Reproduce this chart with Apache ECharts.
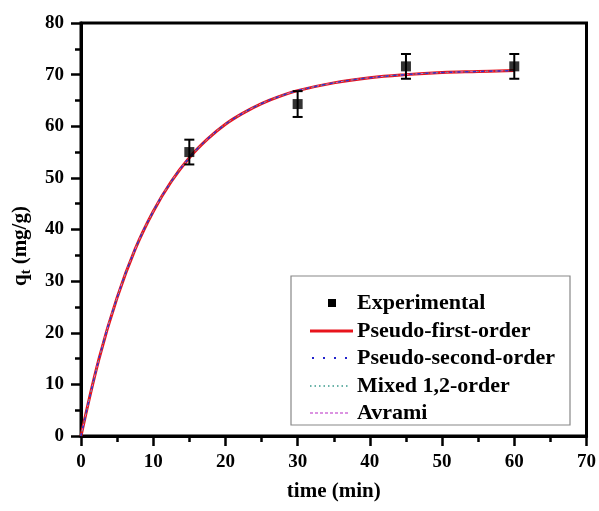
<!DOCTYPE html>
<html>
<head>
<meta charset="utf-8">
<script src="https://cdn.jsdelivr.net/npm/echarts@6/dist/echarts.min.js"></script>
<style>html,body{margin:0;padding:0;background:#fff;}#c{width:599px;height:511px;}</style>
</head>
<body>
<div id="c"></div>
<script>
// ---- data ----
var expTime = [15, 30, 45, 60];
var expQ = [55.0, 64.3, 71.6, 71.6];
var expErr = [2.4, 2.5, 2.4, 2.4];

var fitTime = [0, 2.5, 5, 7.5, 10, 12.5, 15, 17.5, 20, 22.5, 25, 27.5, 30, 35, 40, 45, 50, 55, 60];
var pfoQ   = [0, 15.0, 26.8, 36.2, 43.5, 49.3, 53.9, 57.5, 60.4, 62.6, 64.4, 65.8, 66.9, 68.4, 69.4, 70.0, 70.4, 70.6, 70.8];
var psoQ   = [0, 15.0, 26.8, 36.2, 43.5, 49.3, 53.9, 57.5, 60.4, 62.6, 64.4, 65.8, 66.9, 68.4, 69.4, 70.0, 70.4, 70.6, 70.8];
var mixedQ = [0, 15.0, 26.8, 36.2, 43.5, 49.3, 53.9, 57.5, 60.4, 62.6, 64.4, 65.8, 66.9, 68.4, 69.4, 70.0, 70.4, 70.6, 70.8];
var avramiQ= [0, 15.0, 26.8, 36.2, 43.5, 49.3, 53.9, 57.5, 60.4, 62.6, 64.4, 65.8, 66.9, 68.4, 69.4, 70.0, 70.4, 70.6, 70.8];

var seriesNames = ['Experimental', 'Pseudo-first-order', 'Pseudo-second-order', 'Mixed 1,2-order', 'Avrami'];
var xTitle = 'time (min)';

function pairs(xs, ys) { return xs.map(function (x, i) { return [x, ys[i]]; }); }

var FONT = 'Liberation Serif, Times New Roman, serif';
var chart = echarts.init(document.getElementById('c'), null, { renderer: 'canvas' });

var axisCommon = {
  axisLine: { show: true, onZero: false, lineStyle: { color: '#000', width: 3 } },
  axisTick: { show: true, inside: false, length: 10, lineStyle: { color: '#000', width: 2.5 } },
  minorTick: { show: true, splitNumber: 2, length: 6, lineStyle: { color: '#000', width: 2.5 } },
  splitLine: { show: false },
  axisLabel: { color: '#000', fontFamily: FONT, fontWeight: 'bold', fontSize: 19 }
};

var errData = expTime.map(function (t, i) { return [t, expQ[i] - expErr[i], expQ[i] + expErr[i]]; });

// legend drawn as graphic
var lg = { left: 291, top: 276, right: 570, bottom: 425 };
var rowY = [303, 331, 358, 386, 413];
var legendGraphic = [
  { type: 'rect', shape: { x: lg.left, y: lg.top, width: lg.right - lg.left, height: lg.bottom - lg.top },
    style: { fill: '#fff', stroke: '#888', lineWidth: 1.2 }, z: 100 },
  { type: 'rect', shape: { x: 328, y: rowY[0] - 4, width: 8, height: 8 }, style: { fill: '#000' }, z: 101 },
  { type: 'line', shape: { x1: 310, y1: rowY[1], x2: 353, y2: rowY[1] }, style: { stroke: '#e8141c', lineWidth: 3 }, z: 101 },
  { type: 'line', shape: { x1: 312, y1: rowY[2], x2: 350, y2: rowY[2] }, style: { stroke: '#2222cc', lineWidth: 2, lineDash: [2, 9] }, z: 101 },
  { type: 'line', shape: { x1: 310, y1: rowY[3], x2: 350, y2: rowY[3] }, style: { stroke: '#3a9a8c', lineWidth: 1.3, lineDash: [1.5, 3] }, z: 101 },
  { type: 'line', shape: { x1: 310, y1: rowY[4], x2: 350, y2: rowY[4] }, style: { stroke: '#d070d8', lineWidth: 1.3, lineDash: [3, 2] }, z: 101 }
];
seriesNames.forEach(function (n, i) {
  legendGraphic.push({ type: 'text', x: 357, y: rowY[i], z: 101,
    style: { text: n, fill: '#000', font: 'bold 22px ' + FONT, verticalAlign: 'middle', align: 'left' } });
});
legendGraphic.push({
  type: 'text', x: 21, y: 246, rotation: Math.PI / 2, z: 101,
  style: {
    text: '{a|q}{b|t}{a| (mg/g)}', align: 'center', verticalAlign: 'middle',
    rich: {
      a: { fontFamily: FONT, fontWeight: 'bold', fontSize: 21, fill: '#000', color: '#000' },
      b: { fontFamily: FONT, fontWeight: 'bold', fontSize: 14, fill: '#000', color: '#000', padding: [10, 0, 0, 0] }
    }
  }
});

chart.setOption({
  animation: false,
  backgroundColor: '#fff',
  grid: { left: 81, right: 10, top: 23, bottom: 75, show: true, borderColor: '#000', borderWidth: 3, backgroundColor: 'transparent' },
  xAxis: Object.assign({}, axisCommon, {
    type: 'value', min: 0, max: 70, interval: 10,
    name: xTitle, nameLocation: 'middle', nameGap: 45,
    nameTextStyle: { color: '#000', fontFamily: FONT, fontWeight: 'bold', fontSize: 21 },
    axisLabel: Object.assign({}, axisCommon.axisLabel, { margin: 17 })
  }),
  yAxis: Object.assign({}, axisCommon, {
    type: 'value', min: 0, max: 80, interval: 10,
    axisLabel: Object.assign({}, axisCommon.axisLabel, { margin: 17 })
  }),
  graphic: legendGraphic,
  series: [
    { name: seriesNames[1], type: 'line', data: pairs(fitTime, pfoQ), smooth: 0.4, symbol: 'none',
      lineStyle: { color: '#e8141c', width: 3 }, z: 2 },
    { name: seriesNames[4], type: 'line', data: pairs(fitTime, avramiQ), smooth: 0.4, symbol: 'none',
      lineStyle: { color: '#d070d8', width: 1, type: [3, 2] }, z: 3 },
    { name: seriesNames[3], type: 'line', data: pairs(fitTime, mixedQ), smooth: 0.4, symbol: 'none',
      lineStyle: { color: '#3a9a8c', width: 1, type: [1.5, 3] }, z: 4 },
    { name: seriesNames[2], type: 'line', data: pairs(fitTime, psoQ), smooth: 0.4, symbol: 'none',
      lineStyle: { color: '#3333cc', width: 1.5, type: [3, 5] }, z: 5 },
    { name: 'err', type: 'custom', data: errData, z: 6,
      renderItem: function (params, api) {
        var x = api.value(0);
        var lo = api.coord([x, api.value(1)]);
        var hi = api.coord([x, api.value(2)]);
        var w = 5;
        var st = { stroke: '#000', lineWidth: 2 };
        return { type: 'group', children: [
          { type: 'line', shape: { x1: lo[0], y1: lo[1], x2: hi[0], y2: hi[1] }, style: st },
          { type: 'line', shape: { x1: lo[0] - w, y1: lo[1], x2: lo[0] + w, y2: lo[1] }, style: st },
          { type: 'line', shape: { x1: hi[0] - w, y1: hi[1], x2: hi[0] + w, y2: hi[1] }, style: st }
        ] };
      }
    },
    { name: seriesNames[0], type: 'scatter', data: pairs(expTime, expQ), symbol: 'rect', symbolSize: 10,
      itemStyle: { color: '#000' }, z: 7 }
  ]
});
</script>
</body>
</html>
